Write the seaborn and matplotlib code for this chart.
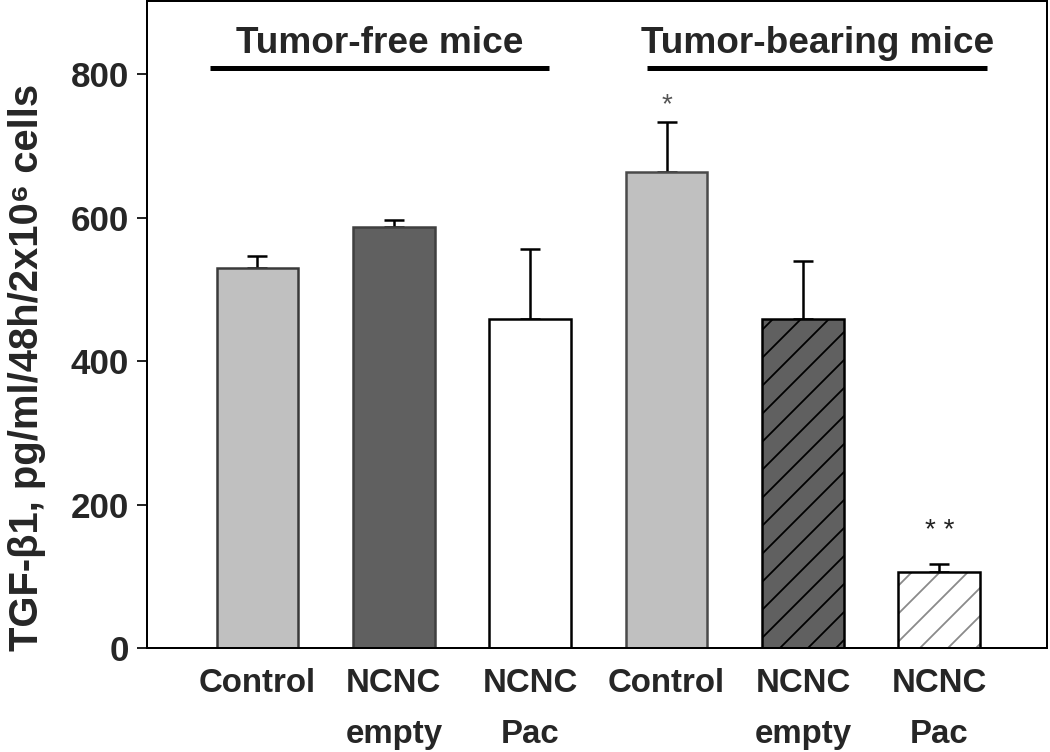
import numpy as np
import seaborn as sns
import matplotlib.pyplot as plt

# values (TGF-beta1 secretion, mean and upper SEM)
conditions = ["TF Control", "TF NCNC empty", "TF NCNC Pac",
              "TB Control", "TB NCNC empty", "TB NCNC Pac"]
tick_labels = ["Control", "NCNC\nempty", "NCNC\nPac",
               "Control", "NCNC\nempty", "NCNC\nPac"]
means = [530, 587, 459, 663, 458, 106]
sem_upper = [17, 9, 97, 70, 82, 11]
star_labels = ["", "", "", "*", "", "* *"]

groups = ["Tumor-free mice", "Tumor-bearing mice"]
group_spans = [(-0.35, 2.14), (2.86, 5.35)]

fill_colors = ["#c0c0c0", "#606060", "#ffffff", "#c0c0c0", "#606060", "#ffffff"]
edge_colors = ["#3a3a3a", "#404040", "#000000", "#4a4a4a", "#000000", "#000000"]
hatches = ["", "", "", "", "//", "//"]
hatch_colors = [None, None, None, None, "#000000", "#8a8a8a"]

# render at a high dpi so the hatch cell is big enough (sizes below are given in pixels)
DPI = 168


def pt(px):
    return px * 72 / DPI


sns.set_style("ticks")
plt.rcParams["font.family"] = ["Liberation Sans", "DejaVu Sans"]
plt.rcParams["hatch.linewidth"] = pt(1.8)

fig = plt.figure(figsize=(1050 / DPI, 752 / DPI), dpi=DPI)
ax = fig.add_axes([147 / 1050, 104 / 752, 900 / 1050, 647 / 752])

sns.barplot(x=conditions, y=means, hue=conditions, palette=fill_colors,
            saturation=1, width=0.6, errorbar=None, legend=False, ax=ax)

for i, cont in enumerate(ax.containers):
    for bar in cont:
        bar.set_edgecolor(edge_colors[i])
        bar.set_linewidth(pt(2.5))
        bar.set_zorder(2)
        if hatches[i]:
            bar.set_hatch(hatches[i])
            bar._hatch_color = plt.matplotlib.colors.to_rgba(hatch_colors[i])

# upper error bars only (drawn under the bars so the lower cap is hidden)
ax.errorbar(np.arange(len(means)), means, yerr=[np.zeros(len(means)), sem_upper],
            fmt="none", ecolor="black", elinewidth=pt(2.5), capsize=pt(10),
            capthick=pt(2.5), zorder=1.5)

# significance marks
for i, s in enumerate(star_labels):
    if s:
        top = means[i] + sem_upper[i]
        ax.text(i, top + 46 if i == 5 else top + 24, s, ha="center", va="center",
                fontsize=pt(28), color="#222222" if i == 5 else "#555555")

# group headers with underline
for name, (x0, x1) in zip(groups, group_spans):
    ax.plot([x0, x1], [809, 809], color="black", lw=pt(5), solid_capstyle="butt")
    ax.text((x0 + x1) / 2, 843, name, ha="center", va="center",
            fontsize=pt(37), fontweight="bold")

ax.set_xlim(-0.81, 5.79)
ax.set_ylim(0, 902)
ax.set_yticks([0, 200, 400, 600, 800])
ax.set_xticks(range(len(conditions)))
ax.set_xticklabels(tick_labels, fontweight="bold", linespacing=1.85)
for lbl in ax.get_yticklabels():
    lbl.set_fontweight("bold")

ax.tick_params(axis="y", direction="out", length=pt(10), width=pt(2),
               pad=pt(8), labelsize=pt(35))
ax.tick_params(axis="x", length=0, pad=pt(20), labelsize=pt(33))

for side in ["left", "right", "top", "bottom"]:
    ax.spines[side].set_visible(True)
    ax.spines[side].set_color("black")
    ax.spines[side].set_linewidth(pt(2))

ax.set_xlabel("")
ax.set_ylabel("TGF-β1, pg/ml/48h/2x10⁶ cells", fontsize=pt(40), fontweight="bold")
ax.yaxis.set_label_coords(-0.133, 0.434)
ax.yaxis.label.set_va("center")

fig.savefig("out.png", dpi=DPI)
